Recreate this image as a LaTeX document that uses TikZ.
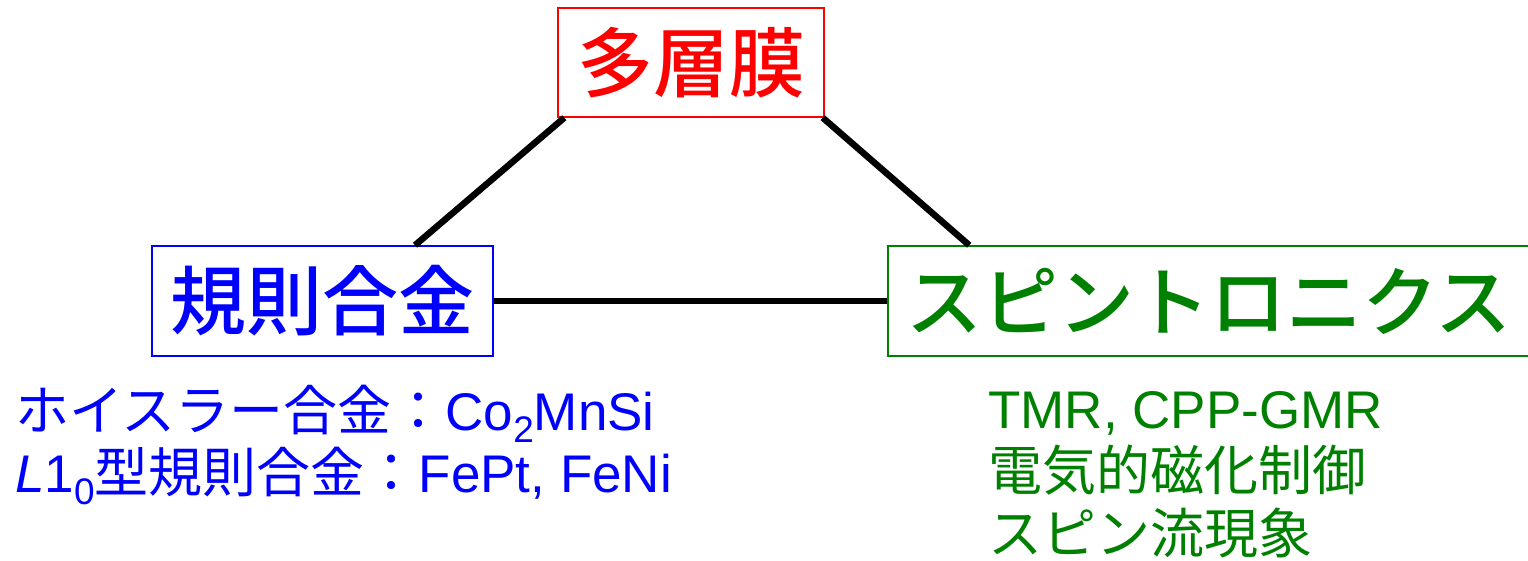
\documentclass[tikz,border=0pt]{standalone}
\usepackage{fontspec}
\setmainfont{Liberation Sans}
\newfontfamily\cjk{Noto Sans CJK JP}
\newfontfamily\cjkt{Noto Sans CJK JP Medium}
\definecolor{myred}{RGB}{255,0,0}
\definecolor{myblue}{RGB}{0,0,255}
\definecolor{mygreen}{RGB}{0,128,0}
\begin{document}
\begin{tikzpicture}[x=1pt,y=-1pt,
  titlebox/.style={draw, line width=1.5pt, fill=white, inner sep=0pt,
     font=\cjkt\fontsize{76}{76}\selectfont},
  conn/.style={line width=6.5pt, black},
  body/.style={anchor=base west, inner sep=0pt, font=\fontsize{53}{53}\selectfont}]
\useasboundingbox (0,0) rectangle (1528,561);
\node[titlebox, draw=myred, text=myred, minimum width=266pt, minimum height=109pt] (ml) at (691,62.5) {多層膜};
\node[titlebox, draw=myblue, text=myblue, minimum width=341pt, minimum height=110pt] (ki) at (322.5,301) {規則合金};
\node[titlebox, draw=mygreen, text=mygreen, minimum width=642pt, minimum height=110pt] (sp) at (1209,301) {スピントロニクス};
\draw[conn] ([xshift=7pt]ml.south west) -- ([xshift=92.5pt]ki.north);
\draw[conn] ([xshift=-2pt]ml.south east) -- ([xshift=82pt]sp.north west);
\draw[conn] (ki.east) -- (sp.west);
\node[body, text=myblue] (b1) at (15,430) {{\cjk\fontsize{54}{54}\selectfont ホイスラー合金：}Co\raisebox{-0.24em}{\fontsize{37}{37}\selectfont 2}MnSi};
\node[body, text=myblue] (b2) at (15,492) {\textit{L}1\raisebox{-0.24em}{\fontsize{37}{37}\selectfont 0}{\cjk\fontsize{54}{54}\selectfont 型規則合金：}FePt, FeNi};
\node[body, text=mygreen] (g1) at (988,428) {TMR, CPP-GMR};
\node[body, text=mygreen] (g2) at (988,490) {\cjk\fontsize{54}{54}\selectfont 電気的磁化制御};
\node[body, text=mygreen] (g3) at (988,553) {\cjk\fontsize{54}{54}\selectfont スピン流現象};
\end{tikzpicture}
\end{document}
